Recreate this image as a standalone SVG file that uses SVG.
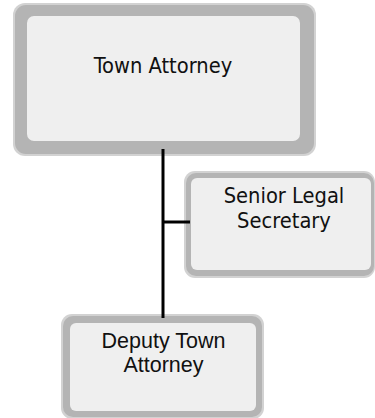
<svg xmlns="http://www.w3.org/2000/svg" width="375" height="418" viewBox="0 0 375 418">
  <style>
    .halo { fill: #d2d2d2; }
    .frame { fill: #b4b4b4; }
    .face { fill: #efefef; }
    .t1 { font-family: "DejaVu Sans Condensed", "DejaVu Sans", sans-serif; font-stretch: condensed; font-size: 21.7px; fill: #111; text-anchor: middle; }
    .t2 { font-family: "Liberation Sans", Arial, sans-serif; font-size: 21.5px; fill: #111; text-anchor: middle; }
    .link { stroke: #000; stroke-width: 3; fill: none; }
  </style>

  <g id="town-attorney">
    <rect class="halo" x="13" y="3" width="303" height="153" rx="12"/>
    <rect class="frame" x="15" y="5" width="299" height="149" rx="11"/>
    <rect class="face" x="27" y="16" width="273" height="125" rx="7"/>
    <text class="t1" x="163" y="73">Town Attorney</text>
  </g>

  <g id="senior-legal-secretary">
    <rect class="halo" x="184" y="171" width="191" height="107" rx="11"/>
    <rect class="frame" x="186" y="173" width="188" height="103" rx="10"/>
    <rect class="face" x="191" y="178" width="180" height="92" rx="6"/>
    <text class="t1" x="284" y="203">Senior Legal</text>
    <text class="t1" x="284" y="228">Secretary</text>
  </g>

  <g id="deputy-town-attorney">
    <rect class="halo" x="61" y="314" width="203" height="105" rx="11"/>
    <rect class="frame" x="63" y="316" width="199" height="101" rx="10"/>
    <rect class="face" x="70" y="323" width="186" height="88" rx="6"/>
    <text class="t2" x="163.5" y="348">Deputy Town</text>
    <text class="t2" x="163.5" y="372">Attorney</text>
  </g>

  <g id="connectors">
    <line class="link" x1="163" y1="149" x2="163" y2="318"/>
    <line class="link" x1="163" y1="222" x2="190" y2="222"/>
  </g>
</svg>
